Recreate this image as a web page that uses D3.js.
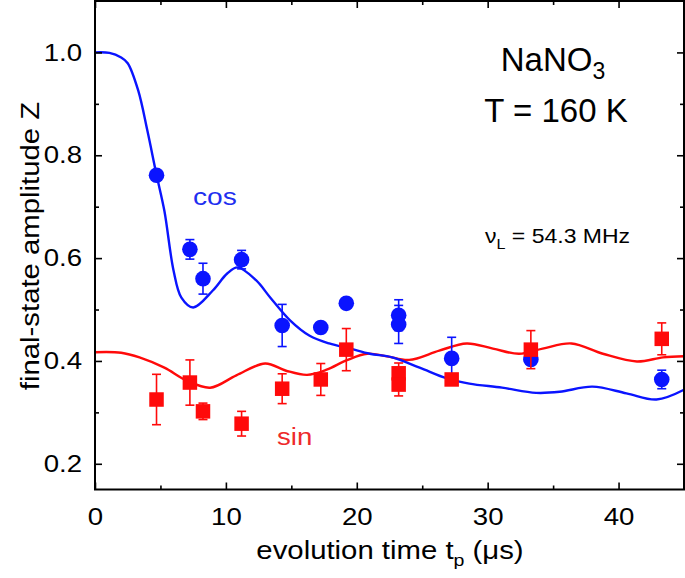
<!DOCTYPE html>
<html>
<head>
<meta charset="utf-8">
<script src="https://cdn.jsdelivr.net/npm/d3@7"></script>
<style>
  html, body { margin: 0; padding: 0; background: #fff; }
  svg { display: block; font-family: "Liberation Sans", Arial, sans-serif; }
</style>
</head>
<body>
<svg id="chart" width="685" height="578"></svg>
<script>
// ---- data ----
const cosT   = [4.7, 7.25, 8.25, 11.2, 14.3, 17.25, 19.2, 23.2, 23.2, 27.25, 33.3, 43.3];
const cosZ   = [0.761, 0.617, 0.560, 0.597, 0.469, 0.465, 0.512, 0.489, 0.471, 0.405, 0.403, 0.364];
const cosErr = [0.010, 0.019, 0.030, 0.018, 0.041, 0.010, 0.010, 0.030, 0.037, 0.041, 0.010, 0.018];

const sinT   = [4.7, 7.25, 8.25, 11.2, 14.3, 17.25, 19.2, 23.2, 23.2, 27.25, 33.3, 43.3];
const sinZ   = [0.325, 0.358, 0.302, 0.278, 0.346, 0.364, 0.422, 0.376, 0.354, 0.364, 0.422, 0.443];
const sinErr = [0.049, 0.044, 0.016, 0.024, 0.029, 0.031, 0.041, 0.020, 0.022, 0.010, 0.037, 0.031];

const cosFitT = [0, 1.1, 2.0, 2.5, 3.3, 4.0, 4.7, 5.3, 6.0, 6.6, 7.5, 9.0, 10.1, 10.9, 12.3, 13.4, 14.9, 16.4, 17.9, 19.5, 21.0, 22.7, 24.8, 26.9, 28.6, 31.1, 33.7, 35.5, 38.0, 40.6, 42.9, 45];
const cosFitZ = [1.0, 0.999, 0.99, 0.979, 0.926, 0.848, 0.762, 0.692, 0.576, 0.523, 0.504, 0.537, 0.570, 0.582, 0.557, 0.523, 0.479, 0.449, 0.434, 0.424, 0.414, 0.407, 0.387, 0.366, 0.356, 0.348, 0.338, 0.340, 0.350, 0.337, 0.325, 0.344];

const sinFitT = [0, 2.0, 3.4, 5.3, 7.0, 8.8, 10.8, 13.0, 14.6, 16.2, 17.7, 19.2, 20.8, 22.3, 24.0, 26.3, 28.4, 30.4, 32.4, 34.2, 36.4, 38.8, 41.4, 43.4, 45];
const sinFitZ = [0.417, 0.416, 0.407, 0.387, 0.362, 0.348, 0.372, 0.395, 0.381, 0.373, 0.383, 0.401, 0.414, 0.409, 0.402, 0.420, 0.434, 0.424, 0.414, 0.424, 0.434, 0.414, 0.399, 0.407, 0.409];

const xMajor = [0, 10, 20, 30, 40];
const xMinor = [5, 15, 25, 35];
const yMajor = [0.2, 0.4, 0.6, 0.8, 1.0];
const yMinor = [0.3, 0.5, 0.7, 0.9];

// ---- layout ----
const svg = d3.select("#chart");
const L = 95, R = 684, T = 1, B = 489.5;
const SX = 1.15; // horizontal stretch of the text, as in the reference
const x = d3.scaleLinear().domain([0, 45]).range([L, R]);
const y = d3.scaleLinear().domain([0.15, 1.1]).range([B, T]);

const BLUE = "#0a14ff", RED = "#ff0a0a";

// curves
const line = d3.line().x(d => x(d[0])).y(d => y(d[1])).curve(d3.curveCatmullRom.alpha(0.5));
svg.append("path").datum(d3.zip(sinFitT, sinFitZ)).attr("d", line)
  .attr("fill", "none").attr("stroke", RED).attr("stroke-width", 2.4);
svg.append("path").datum(d3.zip(cosFitT, cosFitZ)).attr("d", line)
  .attr("fill", "none").attr("stroke", BLUE).attr("stroke-width", 2.4);

function errBars(T_, Z_, E_, color) {
  const g = svg.append("g").attr("stroke", color).attr("stroke-width", 1.6).attr("fill", "none");
  T_.forEach((t, i) => {
    const cx = x(t), y1 = y(Z_[i] + E_[i]), y2 = y(Z_[i] - E_[i]);
    g.append("line").attr("x1", cx).attr("x2", cx).attr("y1", y1).attr("y2", y2);
    g.append("line").attr("x1", cx - 4.5).attr("x2", cx + 4.5).attr("y1", y1).attr("y2", y1);
    g.append("line").attr("x1", cx - 4.5).attr("x2", cx + 4.5).attr("y1", y2).attr("y2", y2);
  });
}

// cos points
errBars(cosT, cosZ, cosErr, BLUE);
svg.append("g").selectAll("circle").data(d3.zip(cosT, cosZ)).join("circle")
  .attr("cx", d => x(d[0])).attr("cy", d => y(d[1])).attr("r", 7.8).attr("fill", BLUE);

// sin points
errBars(sinT, sinZ, sinErr, RED);
const S = 14.5;
svg.append("g").selectAll("rect").data(d3.zip(sinT, sinZ)).join("rect")
  .attr("x", d => x(d[0]) - S / 2).attr("y", d => y(d[1]) - S / 2)
  .attr("width", S).attr("height", S).attr("fill", RED);

// axes (ticks inward)
const fmtY = d3.format(".1f");
const axB = svg.append("g").attr("transform", `translate(0,${B})`)
  .call(d3.axisBottom(x).tickValues(xMajor).tickSize(-7).tickPadding(18).tickFormat(d3.format("d")));
const axBm = svg.append("g").attr("transform", `translate(0,${B})`)
  .call(d3.axisBottom(x).tickValues(xMinor).tickSize(-4).tickFormat(""));
const axT = svg.append("g").attr("transform", `translate(0,${T})`)
  .call(d3.axisTop(x).tickValues(xMajor).tickSize(-7).tickFormat(""));
const axTm = svg.append("g").attr("transform", `translate(0,${T})`)
  .call(d3.axisTop(x).tickValues(xMinor).tickSize(-4).tickFormat(""));
const axL = svg.append("g").attr("transform", `translate(${L},0)`)
  .call(d3.axisLeft(y).tickValues(yMajor).tickSize(-7).tickPadding(13).tickFormat(fmtY));
const axLm = svg.append("g").attr("transform", `translate(${L},0)`)
  .call(d3.axisLeft(y).tickValues(yMinor).tickSize(-4).tickFormat(""));
const axR = svg.append("g").attr("transform", `translate(${R},0)`)
  .call(d3.axisRight(y).tickValues(yMajor).tickSize(-7).tickFormat(""));
const axRm = svg.append("g").attr("transform", `translate(${R},0)`)
  .call(d3.axisRight(y).tickValues(yMinor).tickSize(-4).tickFormat(""));

[axB, axBm, axT, axTm, axL, axLm, axR, axRm].forEach(a => {
  a.select(".domain").remove();
  a.selectAll(".tick line").attr("stroke", "#000").attr("stroke-width", 1.6);
  a.selectAll(".tick text").attr("fill", "#000").style("font-size", "24px")
    .style("font-family", "'Liberation Sans', Arial, sans-serif");
});
axB.selectAll(".tick text").attr("dy", "0.71em").attr("transform", `scale(${SX},1)`);
axL.selectAll(".tick text").attr("x", 0).attr("transform", `translate(-13,0) scale(${SX},1)`);

// frame
svg.append("rect").attr("x", L).attr("y", T).attr("width", R - L).attr("height", B - T)
  .attr("fill", "none").attr("stroke", "#000").attr("stroke-width", 2);

function placed(px, py, rot, sx) {
  const s = sx === undefined ? SX : sx;
  return svg.append("text")
    .attr("transform", `translate(${px},${py})${rot ? " rotate(" + rot + ")" : ""} scale(${s},1)`);
}

// axis titles
const xt = placed(390, 559).attr("text-anchor", "middle").style("font-size", "25.5px").attr("fill", "#000");
xt.append("tspan").text("evolution time t");
xt.append("tspan").text("p").attr("dy", 7).style("font-size", "17px");
xt.append("tspan").text(" (μs)").attr("dy", -7);

placed(39, 246, -90).attr("text-anchor", "middle")
  .style("font-size", "25.5px").attr("fill", "#000").text("final-state amplitude Z");

// annotations
const n = placed(553, 71, 0, 1).attr("text-anchor", "middle").style("font-size", "33px").attr("fill", "#000");
n.append("tspan").text("NaNO");
n.append("tspan").text("3").attr("dy", 8).style("font-size", "23px");
placed(556, 122, 0, 1).attr("text-anchor", "middle").style("font-size", "33px").attr("fill", "#000").text("T = 160 K");

const nu = placed(485, 243).style("font-size", "20px").attr("fill", "#000");
nu.append("tspan").text("ν");
nu.append("tspan").text("L").attr("dy", 6).style("font-size", "14px");
nu.append("tspan").text(" = 54.3 MHz").attr("dy", -6);

placed(193, 205).style("font-size", "24.5px").attr("fill", "#1f2ff0").text("cos");
placed(277, 445).style("font-size", "24px").attr("fill", "#ee2a2a").text("sin");
</script>
</body>
</html>
